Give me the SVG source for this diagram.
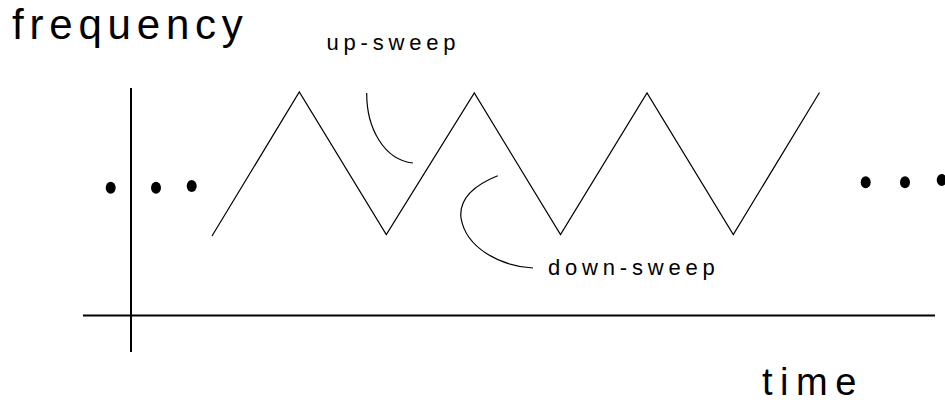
<svg xmlns="http://www.w3.org/2000/svg" width="945" height="404" viewBox="0 0 945 404">
<style>
.t{font-family:"Liberation Sans",Arial,sans-serif;fill:#000}
.big{font-size:42px;letter-spacing:5.8px}
.small{font-size:22px;letter-spacing:4.8px}
.ln{fill:none;stroke:#000;stroke-width:1.2}
.ax{fill:none;stroke:#000;stroke-width:2}
.dot{fill:#000}
</style>
<rect width="945" height="404" fill="#fff"/>
<g id="axes">
<line class="ax" x1="131" y1="88" x2="131" y2="352"/>
<line class="ax" x1="83" y1="315.5" x2="935" y2="315.5"/>
</g>
<g id="signal">
<polyline class="ln" points="212,236 299.3,92 386.3,234.5 474.3,93 560.5,234.5 647,93 733.3,234.5 819.5,92.5"/>
</g>
<g id="dots-left">
<ellipse class="dot" cx="110.7" cy="187.7" rx="5" ry="6"/>
<ellipse class="dot" cx="156" cy="187.7" rx="5" ry="6"/>
<ellipse class="dot" cx="191.7" cy="186" rx="5" ry="6"/>
</g>
<g id="dots-right">
<ellipse class="dot" cx="865.7" cy="182.3" rx="5" ry="6"/>
<ellipse class="dot" cx="905" cy="182.3" rx="5" ry="6"/>
<ellipse class="dot" cx="941.7" cy="180" rx="5" ry="6"/>
</g>
<g id="connectors">
<path class="ln" d="M366.7,93 C366.5,128 384,160 413,163"/>
<path class="ln" d="M497.7,175.7 C472,186 459,200 461,218 C466,248 500,266 533,268"/>
</g>
<g id="labels">
<text class="t big" x="12" y="39">frequency</text>
<text class="t small" x="326.5" y="50">up-sweep</text>
<text class="t small" x="548" y="274.5">down-sweep</text>
<text class="t big" x="762" y="395" style="font-size:38px;letter-spacing:7.5px">time</text>
</g>
</svg>
